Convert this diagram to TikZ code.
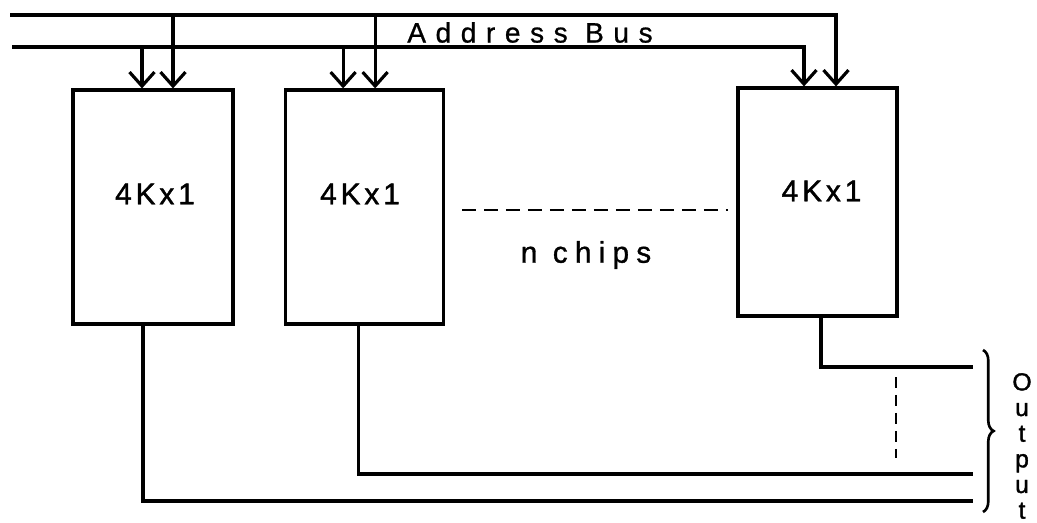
\documentclass[tikz,border=0pt]{standalone}
\usepackage{fontspec}
\setmainfont{Liberation Sans}
\newfontfamily\chipfont[LetterSpace=13, FakeBold=1.5]{Liberation Sans}
\newfontfamily\busfont[LetterSpace=34, FakeBold=0.8]{Liberation Sans}
\newfontfamily\nfont[LetterSpace=24, FakeBold=1]{Liberation Sans}
\newfontfamily\outfont[FakeBold=1.5]{Liberation Sans}
\usepackage{tikz}
\usetikzlibrary{arrows.meta, positioning, calc, decorations.pathreplacing}

\begin{document}
\begin{tikzpicture}[x=0.02cm, y=-0.02cm, line width=1.8pt,
  block/.style={rectangle, draw, minimum width=3.2cm, minimum height=4.68cm, inner sep=0pt},
  arr/.style={-{Straight Barb[length=2.8mm, width=5mm]}},
  chiplbl/.style={font=\chipfont\fontsize{17}{17}\selectfont, inner sep=0pt},
  dashline/.style={dash pattern=on 0.28cm off 0.16cm, line width=1.5pt}
]
\useasboundingbox (0,0) rectangle (1037,523);

% memory chips
\node[block] (box1) at (153,207) {};
\node[block, right=0.98cm of box1, minimum width=3.16cm] (box2) {};
\node[block, minimum height=4.56cm, minimum width=3.18cm] (box3) at (817.5,202) {};
\node[chiplbl] (lab1) at (155,194) {4Kx1};
\node[chiplbl] (lab2) at (360,194) {4Kx1};
\node[chiplbl] (lab3) at (821.5,191) {4Kx1};

% address bus
\coordinate (abus) at (10,15);
\coordinate (bbus) at (12,47);
\draw[arr] (abus) -| ([xshift=0.37cm]box3.north);
\draw[arr] (bbus) -| ([xshift=-0.27cm]box3.north);
\draw[arr] ([xshift=0.4cm]box1.north |- abus) -- ([xshift=0.4cm]box1.north);
\draw[arr] ([xshift=-0.22cm]box1.north |- bbus) -- ([xshift=-0.22cm]box1.north);
\draw[arr] ([xshift=0.22cm]box2.north |- abus) -- ([xshift=0.22cm]box2.north);
\draw[arr] ([xshift=-0.42cm]box2.north |- bbus) -- ([xshift=-0.42cm]box2.north);
\node[font=\busfont\fontsize{16}{16}\selectfont, inner sep=0pt] (busl) at (530,32.5) {Address Bus};

% n chips
\coordinate (dl) at (462,210);
\coordinate (dr) at (728,210);
\draw[dashline] (dl) -- (dr);
\node[font=\nfont\fontsize{17}{17}\selectfont, inner sep=0pt] (nch) at (586,255) {n chips};

% outputs
\coordinate (o1) at (973,367);
\coordinate (o2) at (973,474);
\coordinate (o3) at (973,501);
\draw ([xshift=0.07cm]box3.south) |- (o1);
\draw ([xshift=-0.12cm]box2.south) |- (o2);
\draw ([xshift=-0.2cm]box1.south) |- (o3);
\coordinate (dv) at (896,377);
\draw[dashline, dash pattern=on 0.22cm off 0.14cm] (dv) -- ++(0,81);

\coordinate (bt) at (983,350);
\coordinate (bb) at (983,512);
\draw[decorate, decoration={brace, amplitude=6pt}, line width=1.5pt] (bt) -- (bb);
\node[font=\outfont\fontsize{14}{14.6}\selectfont, align=center, inner sep=0pt] (outl) at (1022,446) {O\\u\\t\\p\\u\\t};
\end{tikzpicture}
\end{document}
